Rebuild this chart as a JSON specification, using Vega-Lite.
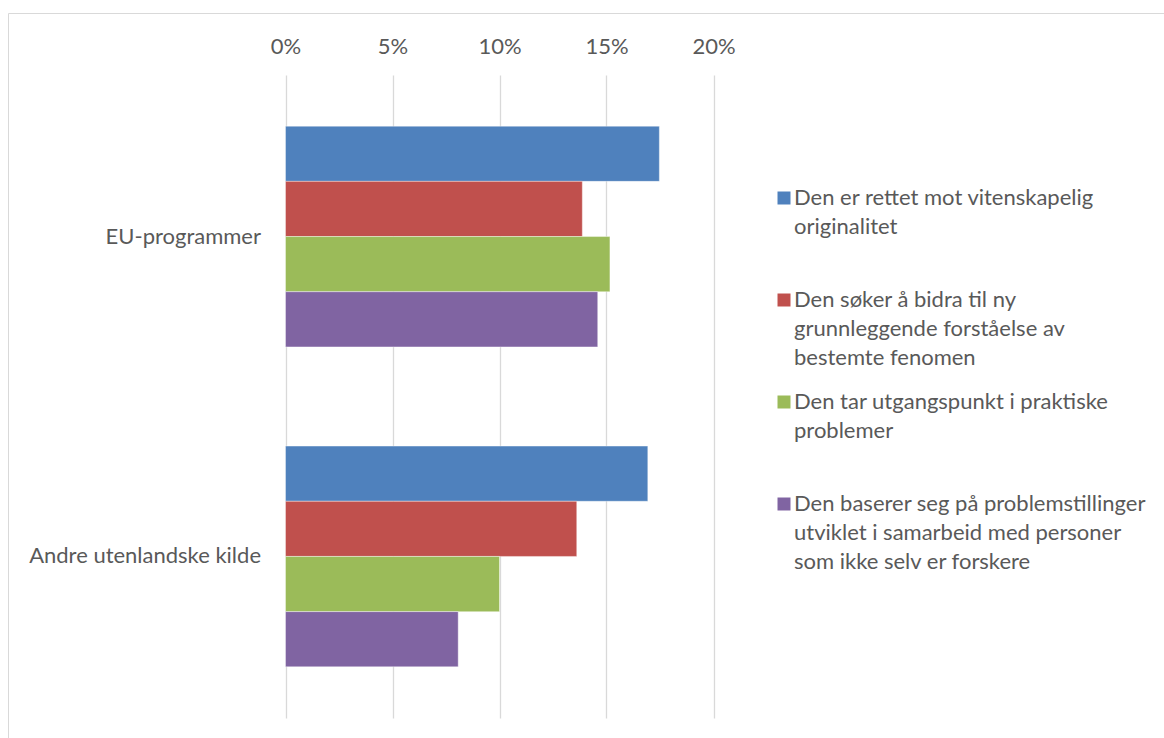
{
  "$schema": "https://vega.github.io/schema/vega-lite/v6.json",
  "width": 1160,
  "height": 730,
  "autosize": "none",
  "padding": {"left": 8, "top": 13, "right": 0, "bottom": 0},
  "background": "white",
  "config": {
    "view": {"stroke": "#d9d9d9", "strokeWidth": 1},
    "font": "Lato",
    "axis": {"labelFont": "Lato", "labelFontSize": 22, "labelColor": "#595959"},
    "legend": {"labelFont": "Lato", "labelFontSize": 22, "labelColor": "#595959"},
    "style": {"guide-label": {"lineHeight": 29}}
  },
  "data": {
    "values": [
      {"kilde": "EU-programmer", "kjennetegn": "Den er rettet mot vitenskapelig originalitet", "andel": 0.1747},
      {"kilde": "EU-programmer", "kjennetegn": "Den søker å bidra til ny grunnleggende forståelse av bestemte fenomen", "andel": 0.1387},
      {"kilde": "EU-programmer", "kjennetegn": "Den tar utgangspunkt i praktiske problemer", "andel": 0.1516},
      {"kilde": "EU-programmer", "kjennetegn": "Den baserer seg på problemstillinger utviklet i samarbeid med personer som ikke selv er forskere", "andel": 0.1459},
      {"kilde": "Andre utenlandske kilde", "kjennetegn": "Den er rettet mot vitenskapelig originalitet", "andel": 0.1693},
      {"kilde": "Andre utenlandske kilde", "kjennetegn": "Den søker å bidra til ny grunnleggende forståelse av bestemte fenomen", "andel": 0.1361},
      {"kilde": "Andre utenlandske kilde", "kjennetegn": "Den tar utgangspunkt i praktiske problemer", "andel": 0.1},
      {"kilde": "Andre utenlandske kilde", "kjennetegn": "Den baserer seg på problemstillinger utviklet i samarbeid med personer som ikke selv er forskere", "andel": 0.0807}
    ]
  },
  "mark": {"type": "bar", "stroke": "white", "strokeOpacity": 0.4, "strokeWidth": 1},
  "encoding": {
    "y": {
      "field": "kilde",
      "type": "nominal",
      "sort": null,
      "scale": {"range": [62, 705], "paddingInner": 0.31, "paddingOuter": 0.16},
      "axis": {
        "title": null,
        "orient": "left",
        "offset": -277.5,
        "ticks": false,
        "tickSize": 0,
        "domain": false,
        "grid": false,
        "labelPadding": 25,
        "labelLimit": 400
      }
    },
    "x": {
      "field": "andel",
      "type": "quantitative",
      "scale": {"domain": [0, 0.2], "range": [277.5, 705.5], "nice": false},
      "axis": {
        "title": null,
        "orient": "top",
        "format": ".0%",
        "values": [0, 0.05, 0.1, 0.15, 0.2],
        "ticks": false,
        "tickSize": 0,
        "domain": false,
        "offset": -40,
        "labelBaseline": "alphabetic",
        "labelPadding": 0,
        "labelFlush": false,
        "grid": true,
        "gridColor": "#d9d9d9",
        "gridWidth": 1.3
      }
    },
    "yOffset": {
      "field": "kjennetegn",
      "type": "nominal",
      "sort": null,
      "scale": {"paddingInner": 0, "paddingOuter": 0}
    },
    "color": {
      "field": "kjennetegn",
      "type": "nominal",
      "scale": {
        "domain": [
          "Den er rettet mot vitenskapelig originalitet",
          "Den søker å bidra til ny grunnleggende forståelse av bestemte fenomen",
          "Den tar utgangspunkt i praktiske problemer",
          "Den baserer seg på problemstillinger utviklet i samarbeid med personer som ikke selv er forskere"
        ],
        "range": ["#4f81bd", "#c0504d", "#9bbb59", "#8064a2"]
      },
      "legend": {
        "title": null,
        "orient": "none",
        "legendX": 765,
        "legendY": 174,
        "padding": 0,
        "symbolType": "square",
        "symbolSize": 169,
        "symbolStrokeWidth": 0,
        "labelOffset": -1,
        "labelLimit": 500,
        "labelBaseline": "middle",
        "gridAlign": "all",
        "rowPadding": 22,
        "labelExpr": "datum.label == 'Den er rettet mot vitenskapelig originalitet' ? ['Den er rettet mot vitenskapelig', 'originalitet'] : datum.label == 'Den søker å bidra til ny grunnleggende forståelse av bestemte fenomen' ? ['Den søker å bidra til ny', 'grunnleggende forståelse av', 'bestemte fenomen'] : datum.label == 'Den tar utgangspunkt i praktiske problemer' ? ['Den tar utgangspunkt i praktiske', 'problemer'] : ['Den baserer seg på problemstillinger', 'utviklet i samarbeid med personer', 'som ikke selv er forskere']",
        "encode": {"labels": {"enter": {"lineHeight": {"value": 29}}, "update": {"lineHeight": {"value": 29}}}}
      }
    }
  }
}
